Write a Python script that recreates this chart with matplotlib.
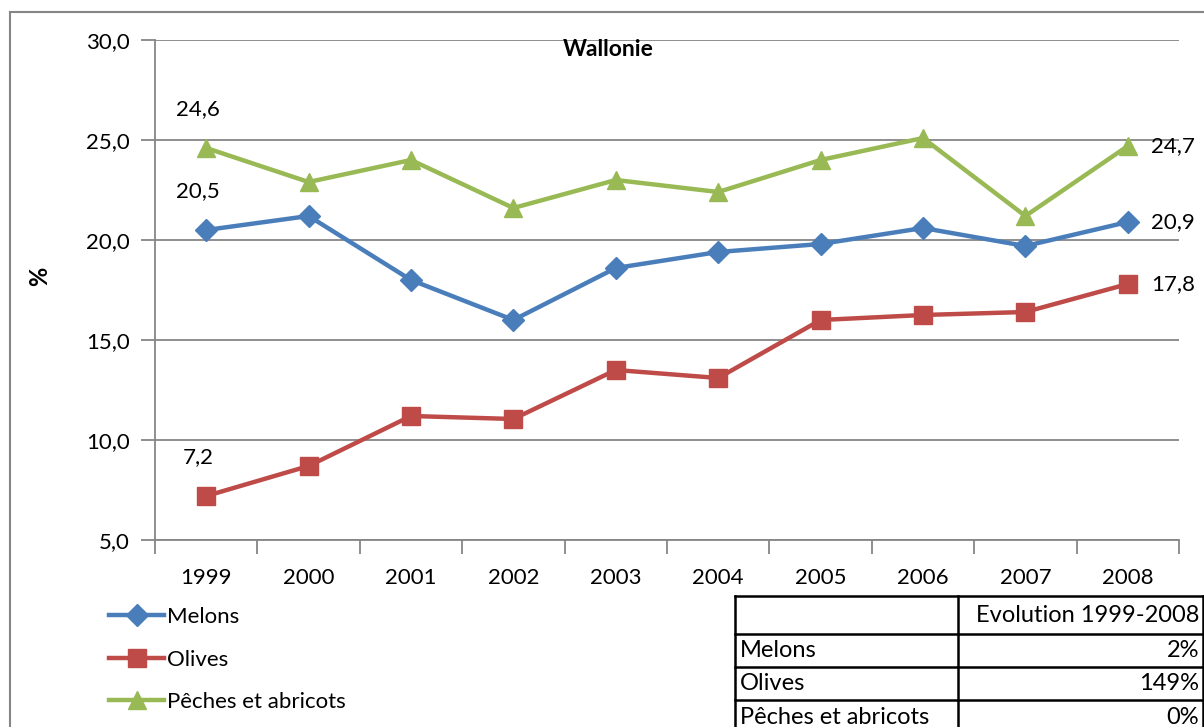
import matplotlib
matplotlib.use("Agg")
import matplotlib.pyplot as plt
from matplotlib.lines import Line2D
import numpy as np

plt.rcParams['font.family'] = ['Lato', 'DejaVu Sans']

years = ['1999', '2000', '2001', '2002', '2003', '2004', '2005', '2006', '2007', '2008']
melons = [20.5, 21.2, 18.0, 16.0, 18.6, 19.4, 19.8, 20.6, 19.7, 20.9]
olives = [7.2, 8.7, 11.2, 11.05, 13.5, 13.1, 16.0, 16.25, 16.4, 17.8]
peches = [24.6, 22.9, 24.0, 21.6, 23.0, 22.4, 24.0, 25.1, 21.2, 24.7]
series_names = ['Melons', 'Olives', 'Pêches et abricots']
evolution = ['2%', '149%', '0%']
table_header = 'Evolution 1999-2008'
title = 'Wallonie'
ylabel = '%'
yticks = [5, 10, 15, 20, 25, 30]

colors = ['#4A7EBB', '#BE4B48', '#98B954']
markers = ['D', 's', '^']
msizes = [11, 13, 13]

W, H = 1204, 727
fig = plt.figure(figsize=(W / 100, H / 100), dpi=100)
ax = fig.add_axes([155 / W, (H - 540) / H, 1024 / W, 500 / H])

x = np.arange(len(years))
handles = []
for vals, c, m, ms, name in zip([melons, olives, peches], colors, markers, msizes, series_names):
    h, = ax.plot(x, vals, color=c, lw=3.2, marker=m, markersize=ms, label=name, zorder=3)
    handles.append(h)

ax.set_xlim(-0.5, len(years) - 0.5)
ax.set_ylim(5, 30)
ax.set_yticks(yticks)
ax.set_yticklabels([f"{v:.1f}".replace('.', ',') for v in yticks], fontsize=16)
ax.set_xticks(np.arange(-0.5, len(years), 1.0))
ax.set_xticklabels([])
ax.set_xticks(x, minor=True)
ax.set_xticklabels(years, minor=True, fontsize=16)
ax.tick_params(axis='x', which='minor', length=0, pad=20)
ax.tick_params(axis='x', which='major', length=10, color='#868686', width=1.3)
ax.tick_params(axis='y', length=10, color='#868686', width=1.3, pad=8)
ax.grid(axis='y', color='#868686', lw=1.3)
ax.set_axisbelow(True)
for s in ['top', 'right']:
    ax.spines[s].set_visible(False)
for s in ['left', 'bottom']:
    ax.spines[s].set_color('#868686')
    ax.spines[s].set_linewidth(1.3)

fig.text(608 / W, 1 - 50 / H, title, ha='center', va='center',
         fontsize=16.5, fontweight='bold')
fig.text(40 / W, 1 - 276 / H, ylabel, rotation=90, ha='center', va='center',
         fontsize=17, fontweight='bold')

def fmt(v):
    return f"{v:.1f}".replace('.', ',')

# data labels at first and last points
for vals in [melons, olives, peches]:
    ax.annotate(fmt(vals[0]), (0, vals[0]), xytext=(-6, 21), textcoords='offset points',
                ha='center', va='bottom', fontsize=16)
    ax.annotate(fmt(vals[-1]), (len(years) - 1, vals[-1]), xytext=(17, 0), textcoords='offset points',
                ha='left', va='center', fontsize=16)

# legend
fig.legend(handles=handles, labels=series_names, loc='upper left',
           bbox_to_anchor=(100 / W, 1 - 598 / H), frameon=False, fontsize=16,
           handlelength=2.5, handletextpad=0.1, labelspacing=1.02, borderaxespad=0)

# table
tx0, tx1, tx2 = 735, 958, 1204
rows_y = [596, 634, 667, 700, 735]
lc = 'black'
tfs = 17
for yy in rows_y:
    fig.add_artist(Line2D([tx0 / W, tx2 / W], [1 - yy / H, 1 - yy / H], color=lc, lw=1.8))
for xx in [tx0, tx1, tx2 - 1]:
    fig.add_artist(Line2D([xx / W, xx / W], [1 - rows_y[0] / H, 0], color=lc, lw=1.8))
fig.text((tx2 - 5) / W, 1 - (rows_y[0] + rows_y[1]) / 2 / H, table_header, ha='right', va='center', fontsize=tfs)
for i, (name, ev) in enumerate(zip(series_names, evolution)):
    yc = 1 - (rows_y[i + 1] + rows_y[i + 2]) / 2 / H
    fig.text((tx0 + 5) / W, yc, name, ha='left', va='center', fontsize=tfs)
    fig.text((tx2 - 5) / W, yc, ev, ha='right', va='center', fontsize=tfs)

# chart border
fig.add_artist(Line2D([10 / W, 10 / W], [1 - 12 / H, 0], color='#868686', lw=1.5))
fig.add_artist(Line2D([10 / W, 1], [1 - 12 / H, 1 - 12 / H], color='#868686', lw=1.5))

fig.savefig('out.png', dpi=100)
